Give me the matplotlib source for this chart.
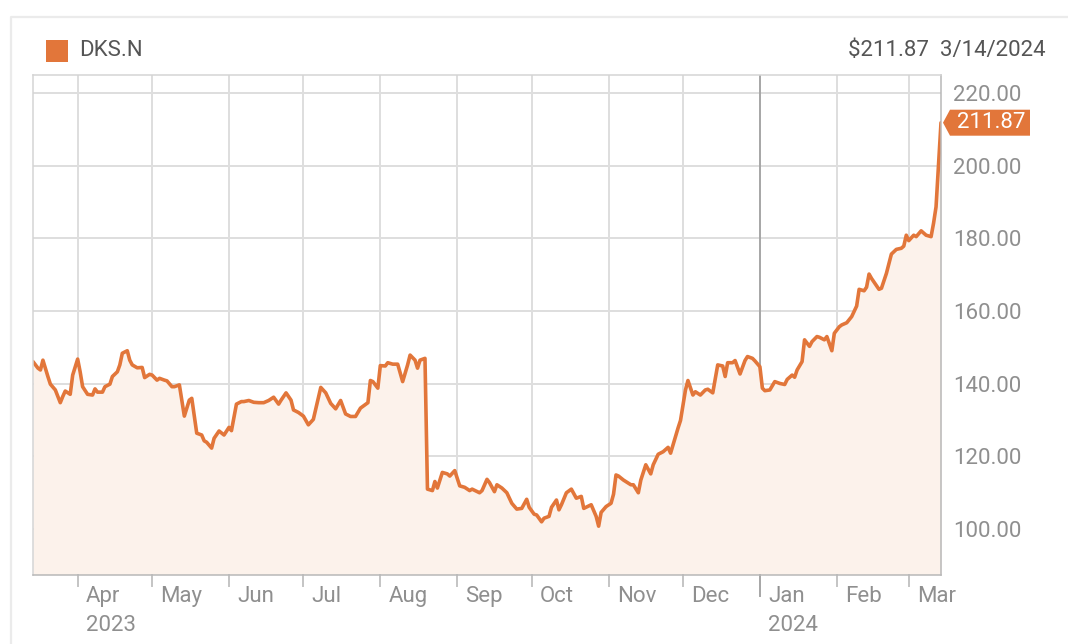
"""
DKS.N one-year closing price, drawn as a filled line chart in the style
of a quote widget: right-hand price axis, month ticks, last-price tag.
"""
import numpy as np
import matplotlib.pyplot as plt
from matplotlib.patches import Rectangle, Polygon
from matplotlib.lines import Line2D

plt.rcParams['font.family'] = ['Roboto', 'DejaVu Sans']

# ============================================================
# Data
# ============================================================
ticker = 'DKS.N'
last_price = 211.87
last_date_label = '3/14/2024'
start_date = '2023-03-14'

# days after start_date, and the close on that day
day_offsets = [
    0, 2, 3, 4, 6, 7, 9, 11, 12, 13, 15, 16, 18, 19, 20, 22, 24, 25, 26, 28,
    29, 31, 32, 34, 35, 36, 38, 39, 40, 42, 44, 45, 47, 48, 50, 51, 53, 54, 56, 57,
    59, 61, 63, 64, 66, 68, 69, 70, 72, 73, 75, 77, 79, 80, 82, 84, 85, 87, 89, 91,
    93, 95, 97, 99, 100, 102, 104, 105, 107, 109, 111, 113, 115, 116, 118, 120, 122, 124, 126, 128,
    130, 132, 135, 136, 137, 139, 140, 142, 143, 145, 147, 149, 151, 152, 154, 155, 156, 158, 159, 161,
    162, 163, 165, 167, 168, 170, 172, 174, 176, 177, 180, 181, 183, 184, 186, 187, 189, 191, 193, 195,
    197, 199, 200, 202, 203, 205, 206, 208, 209, 211, 212, 213, 215, 217, 219, 221, 222, 225, 227, 228,
    229, 231, 233, 234, 235, 236, 238, 241, 242, 244, 245, 247, 249, 250, 252, 254, 256, 257, 259, 260,
    261, 263, 264, 266, 267, 269, 271, 272, 274, 276, 278, 279, 280, 282, 283, 285, 287, 288, 290, 291,
    293, 294, 295, 297, 299, 301, 303, 304, 306, 307, 308, 310, 311, 313, 314, 316, 317, 319, 320, 322,
    323, 325, 326, 328, 330, 332, 333, 335, 336, 337, 338, 341, 342, 344, 346, 348, 350, 351, 352, 353,
    355, 356, 358, 360, 362, 363, 364, 366,
]
prices = [
    146.1, 144.3, 143.8, 146.5, 142.0, 139.9, 138.3, 134.8, 136.5, 138.0,
    137.1, 142.4, 146.8, 143.3, 139.2, 137.1, 136.9, 138.6, 137.7, 137.7,
    139.2, 139.9, 142.0, 143.3, 145.2, 148.4, 149.1, 146.5, 145.2, 144.4,
    144.5, 141.7, 142.6, 142.4, 141.0, 141.5, 141.0, 140.8, 139.2, 139.2,
    139.7, 131.1, 135.5, 136.0, 126.4, 125.9, 124.3, 123.9, 122.3, 125.0,
    127.0, 125.9, 128.0, 127.1, 134.4, 135.1, 135.1, 135.4, 134.9, 134.8,
    134.8, 135.4, 136.3, 134.4, 135.5, 137.5, 135.5, 132.8, 132.1, 131.1,
    128.7, 130.2, 136.0, 139.0, 137.5, 134.6, 133.1, 135.4, 131.7, 131.0,
    131.0, 133.3, 134.8, 140.9, 140.6, 138.8, 145.0, 144.9, 145.8, 145.4,
    145.4, 140.6, 145.2, 147.9, 146.5, 144.3, 146.5, 147.0, 111.0, 110.6,
    113.1, 111.3, 115.6, 115.2, 114.6, 116.1, 111.9, 111.5, 110.6, 111.0,
    110.0, 110.6, 113.7, 112.8, 110.3, 112.2, 111.3, 110.0, 107.1, 105.5,
    105.7, 108.2, 106.0, 104.1, 103.9, 102.0, 103.0, 103.5, 106.0, 108.0,
    105.3, 106.7, 110.0, 111.0, 108.5, 109.0, 105.7, 106.7, 103.5, 100.8,
    104.6, 106.2, 107.1, 109.6, 114.9, 114.6, 113.5, 112.2, 112.2, 110.0,
    113.5, 117.7, 115.2, 117.7, 120.6, 121.3, 122.5, 120.9, 125.5, 127.8,
    129.9, 138.3, 140.9, 136.9, 137.8, 136.9, 138.3, 138.5, 137.5, 145.2,
    144.9, 142.0, 145.8, 145.8, 146.4, 142.7, 146.4, 147.5, 147.0, 146.3,
    144.7, 138.8, 138.1, 138.3, 140.6, 140.1, 139.8, 141.2, 142.4, 141.8,
    143.8, 146.1, 152.1, 150.3, 151.6, 153.0, 152.8, 152.1, 153.0, 149.1,
    153.9, 155.7, 156.2, 156.8, 158.5, 161.4, 166.0, 165.6, 166.6, 170.2,
    169.0, 166.0, 166.3, 170.4, 175.7, 177.0, 177.3, 177.9, 180.9, 179.4,
    180.9, 180.5, 182.1, 180.9, 180.5, 184.2, 188.7, 211.87,
]

month_starts = ['2023-04-01', '2023-05-01', '2023-06-01', '2023-07-01', '2023-08-01',
                '2023-09-01', '2023-10-01', '2023-11-01', '2023-12-01', '2024-01-01',
                '2024-02-01', '2024-03-01']
month_labels = ['Apr', 'May', 'Jun', 'Jul', 'Aug', 'Sep', 'Oct', 'Nov', 'Dec', 'Jan', 'Feb', 'Mar']
year_starts = ['2023-04-01', '2024-01-01']
year_labels = ['2023', '2024']
year_boundary = '2024-01-01'
price_ticks = [100, 120, 140, 160, 180, 200, 220]

# ============================================================
# Styling
# ============================================================
ORANGE = '#e2763a'
FILL = '#fcf2eb'
GRID = '#dedede'
TEXT_GRAY = '#8f8f8f'
DARK_TEXT = '#555555'
FS = 16

W, H = 1068, 644
AX_L, AX_R, AX_T, AX_B = 33, 941, 75, 574.5   # plot box in pixels
fig = plt.figure(figsize=(W / 100, H / 100), dpi=100)
fig.patch.set_facecolor('white')

# outer widget frame (runs off the right and bottom edges)
fig.add_artist(Line2D([11 / W, 11 / W, 1.0], [0.0, 1 - 17 / H, 1 - 17 / H],
                      transform=fig.transFigure, color='#ebebeb', lw=1.6))

ax = fig.add_axes([AX_L / W, (H - AX_B) / H, (AX_R - AX_L) / W, (AX_B - AX_T) / H])

dates = np.datetime64(start_date) + np.array(day_offsets).astype('timedelta64[D]')
y_lo, y_hi = 87.5, 225.0
ax.set_xlim(dates[0], dates[-1])
ax.set_ylim(y_lo, y_hi)

# grid (behind the opaque fill)
for p in price_ticks:
    ax.axhline(p, color=GRID, lw=1.4, zorder=1)
for m in month_starts:
    is_year = m == year_boundary
    ax.axvline(np.datetime64(m), color='#a6a6a6' if is_year else GRID, lw=1.4, zorder=1)

ax.fill_between(dates, prices, y_lo, color=FILL, lw=0, zorder=2)
ax.plot(dates, prices, color=ORANGE, lw=2.6, zorder=3,
        solid_joinstyle='round', solid_capstyle='round')

# spines
for side, c in [('left', '#d4d4d4'), ('top', '#d4d4d4'), ('right', '#b8b8b8'), ('bottom', '#b8b8b8')]:
    ax.spines[side].set_color(c)
    ax.spines[side].set_linewidth(1.1)
    ax.spines[side].set_zorder(4)

# right-hand price axis
ax.set_yticks(price_ticks)
ax.set_yticklabels([f'{p:.2f}' for p in price_ticks])
ax.yaxis.tick_right()
ax.tick_params(axis='y', length=0, pad=8.5, labelsize=FS, labelcolor=TEXT_GRAY)

# month ticks: short gray marks, labels to the right of each mark
ax.set_xticks([])
for m, lab in zip(month_starts, month_labels):
    is_year = m == year_boundary
    d = np.datetime64(m)
    tick_len = 21 if is_year else 11
    ax.add_line(Line2D([d, d], [0, -tick_len / (AX_B - AX_T)], transform=ax.get_xaxis_transform(),
                       color='#a6a6a6' if is_year else '#c4c4c4', lw=1.4, clip_on=False))
    ax.annotate(lab, xy=(d, 0), xycoords=('data', 'axes fraction'),
                xytext=(6, -15.5), textcoords='offset points',
                ha='left', va='center', fontsize=FS, color=TEXT_GRAY)
for m, lab in zip(year_starts, year_labels):
    ax.annotate(lab, xy=(np.datetime64(m), 0), xycoords=('data', 'axes fraction'),
                xytext=(6, -37), textcoords='offset points',
                ha='left', va='center', fontsize=FS, color=TEXT_GRAY)

# header: legend swatch + ticker, last price + date
fig.add_artist(Rectangle((46 / W, 1 - 62 / H), 22 / W, 22 / H, transform=fig.transFigure,
                         facecolor=ORANGE, edgecolor='none'))
fig.text(79 / W, 1 - 50 / H, ticker, fontsize=FS, color=DARK_TEXT, ha='left', va='center')
fig.text(1045 / W, 1 - 50 / H, f'${last_price:.2f}  {last_date_label}',
         fontsize=FS, color=DARK_TEXT, ha='right', va='center')

# last-price tag on the price axis
yc = ax.transData.transform((0, last_price))[1] / H
tip, body_l, body_r, half = 943 / W, 950 / W, 1030 / W, 13 / H
fig.add_artist(Polygon([(tip, yc), (body_l, yc + half), (body_r, yc + half),
                        (body_r, yc - half), (body_l, yc - half)],
                       closed=True, transform=fig.transFigure, facecolor=ORANGE, edgecolor='none'))
fig.text(957 / W, yc, f'{last_price:.2f}', fontsize=FS, color='white',
         ha='left', va='center')

fig.savefig('out.png', dpi=100, facecolor='white')
